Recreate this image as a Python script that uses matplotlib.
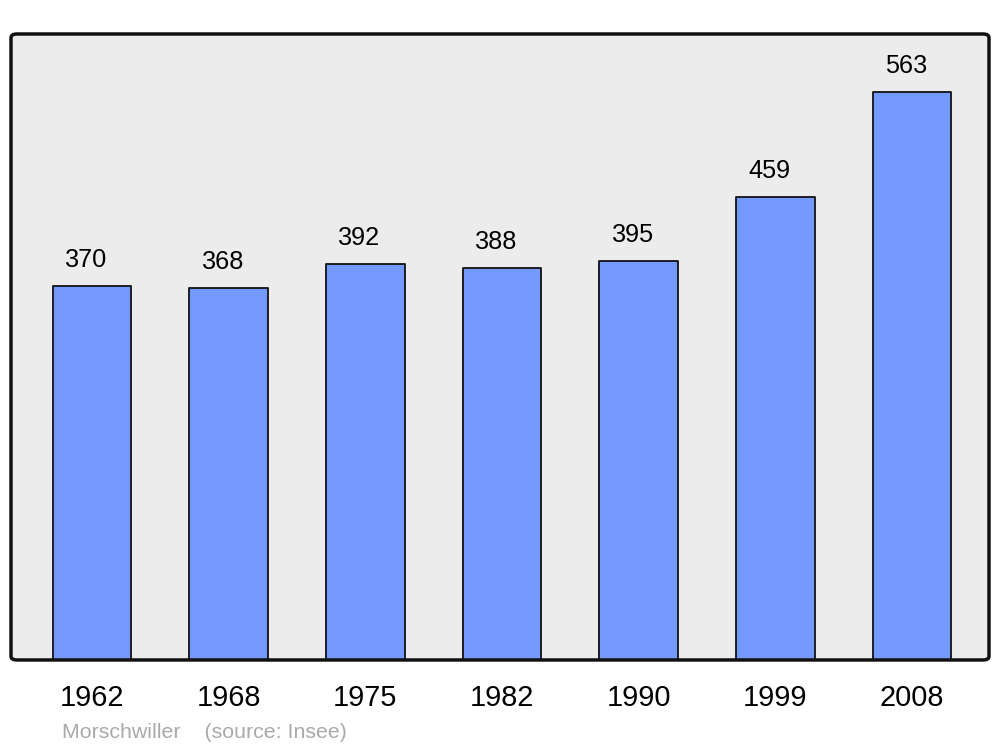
import matplotlib.pyplot as plt
from matplotlib.patches import FancyBboxPatch

plt.rcParams['font.family'] = ['Liberation Sans', 'DejaVu Sans']

years = ['1962', '1968', '1975', '1982', '1990', '1999', '2008']
population = [370, 368, 392, 388, 395, 459, 563]

fig = plt.figure(figsize=(10, 7.47), dpi=100)
ax = fig.add_axes([0.011, 0.1165, 0.978, 0.838])
ax.set_facecolor('#ececec')

x = list(range(len(years)))
bars = ax.bar(x, population, width=0.575, color='#7499ff', edgecolor='#111111',
              linewidth=1.3, zorder=2)
for b in bars:
    b.set_joinstyle('round')

for xi, v in zip(x, population):
    ax.annotate(str(v), (xi, v), xytext=(-6, 19), textcoords='offset pixels',
                ha='center', va='baseline', fontsize=18.2, color='black')

ax.set_xlim(-0.593, 6.563)
ax.set_ylim(0, 620)
ax.set_xticks(x)
ax.set_xticklabels(years, fontsize=20.8)
ax.tick_params(axis='x', length=0, pad=17)
ax.set_yticks([])

for s in ax.spines.values():
    s.set_visible(False)
frame = FancyBboxPatch((0, 0), 1, 1, boxstyle='round,pad=0,rounding_size=0.006',
                       transform=ax.transAxes, facecolor='none', edgecolor='#111111',
                       linewidth=2.5, clip_on=False, zorder=5)
ax.add_patch(frame)

fig.text(0.062, 0.0125, 'Morschwiller    (source: Insee)', fontsize=15.4, color='#aaaaaa',
         ha='left', va='baseline')

fig.savefig('out.png', dpi=100, facecolor='white')
